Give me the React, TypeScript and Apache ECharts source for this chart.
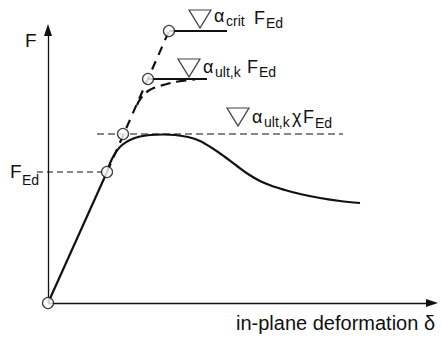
import React, { useEffect, useRef } from "react";
import * as echarts from "echarts";

// Data units: horizontal = in-plane deformation δ, vertical = load F (arbitrary units)
const elasticBranch = [[0, 0], [59, 131]];
const responseCurve = [
  [59, 131], [63, 142], [68, 151], [74, 158], [82, 163], [92, 166.5], [102, 168],
  [115, 168.5], [127, 168], [140, 166], [152, 162], [164, 155], [177, 146], [189, 137],
  [200, 129], [212, 122], [224, 117], [237, 113], [252, 109], [272, 105], [292, 102], [312, 100],
];
const criticalLine = [[59, 131], [121, 272]];
const ultimateCurve = [
  [89, 198], [93, 205], [100, 212], [107, 215.5], [117, 218.5], [130, 221.5], [147, 223.5],
];
const F_ED = 131;
const ALPHA_ULT_CHI_FED = 169;
const ALPHA_ULT_FED = 224;
const ALPHA_CRIT_FED = 272;
const fedLine = [[-11, F_ED], [59, F_ED]];
const chiLine = [[49, ALPHA_ULT_CHI_FED], [295, ALPHA_ULT_CHI_FED]];
const ultLevel = [[100, ALPHA_ULT_FED], [159, ALPHA_ULT_FED]];
const critLevel = [[121, ALPHA_CRIT_FED], [179, ALPHA_CRIT_FED]];
const keyPoints = [[0, 0], [59, F_ED], [75, ALPHA_ULT_CHI_FED], [100, ALPHA_ULT_FED], [121, ALPHA_CRIT_FED]];
const levelMarkers = [[152, 284], [141, 235], [190, 186]];
const xAxisEnd = 384;
const yAxisEnd = 273;

const FONT = '"Liberation Sans", Arial, sans-serif';

function txt(text: string, x: number, y: number, size: number, align = "left") {
  return {
    type: "text",
    x,
    y,
    silent: true,
    style: {
      text,
      font: `${size}px ${FONT}`,
      fill: "#111",
      align,
      verticalAlign: "middle",
    },
  };
}

export default function App() {
  const ref = useRef<HTMLDivElement>(null);
  useEffect(() => {
    if (!ref.current) return;
    const chart = echarts.init(ref.current, undefined, { renderer: "svg" });
    const black = "#111";
    chart.setOption({
      animation: false,
      backgroundColor: "#fff",
      grid: { left: 0, right: 0, top: 0, bottom: 0, containLabel: false },
      xAxis: { type: "value", min: -48, max: 393, show: false },
      yAxis: { type: "value", min: -37, max: 303, show: false },
      series: [
        {
          type: "line",
          data: [],
          markLine: {
            silent: true,
            symbol: ["none", "triangle"],
            symbolSize: [8, 12],
            label: { show: false },
            lineStyle: { color: black, width: 1.3, type: "solid" },
            data: [
              [{ coord: [0, 0] }, { coord: [xAxisEnd, 0] }],
              [{ coord: [0, 0] }, { coord: [0, yAxisEnd] }],
            ],
          },
        },
        {
          type: "line", data: fedLine, symbol: "none",
          lineStyle: { color: black, width: 1, type: [6, 4] },
        },
        {
          type: "line", data: chiLine, symbol: "none",
          lineStyle: { color: black, width: 1, type: [7, 4] },
        },
        {
          type: "line", data: criticalLine, symbol: "none",
          lineStyle: { color: black, width: 2.2, type: [9, 7] },
        },
        {
          type: "line", data: ultimateCurve, symbol: "none", smooth: 0.4,
          lineStyle: { color: black, width: 2.2, type: [10, 6] },
        },
        {
          type: "line", data: elasticBranch, symbol: "none",
          lineStyle: { color: black, width: 2.2 },
        },
        {
          type: "line", data: responseCurve, symbol: "none", smooth: 0.35,
          lineStyle: { color: black, width: 2.2 },
        },
        {
          type: "line", data: ultLevel, symbol: "none",
          lineStyle: { color: black, width: 2 },
        },
        {
          type: "line", data: critLevel, symbol: "none",
          lineStyle: { color: black, width: 2 },
        },
        {
          type: "scatter", data: levelMarkers, symbol: "triangle", symbolRotate: 180,
          symbolSize: [22, 18],
          itemStyle: { color: "rgba(255,255,255,0)", borderColor: black, borderWidth: 1.2 },
          z: 5,
        },
        {
          type: "scatter", data: keyPoints, symbol: "circle", symbolSize: 11,
          itemStyle: { color: "#fff", borderColor: black, borderWidth: 1.3 },
          z: 6,
        },
      ],
      graphic: [
        txt("F", 25, 40, 19),
        txt("F", 10, 171, 19),
        txt("Ed", 22, 180, 14),
        txt("α", 214, 16, 18),
        txt("crit", 226, 21, 14),
        txt("F", 254, 18, 18),
        txt("Ed", 266, 23, 14),
        txt("α", 203, 67, 18),
        txt("ult,k", 215, 72, 14),
        txt("F", 247, 67, 18),
        txt("Ed", 259, 72, 14),
        txt("α", 252, 117, 18),
        txt("ult,k", 264, 122, 14),
        txt("χ", 292, 117, 18),
        txt("F", 303, 117, 18),
        txt("Ed", 315, 123, 14),
        txt("in-plane deformation δ", 236, 323, 20),
      ],
    });
    return () => chart.dispose();
  }, []);
  return (
    <div
      ref={ref}
      style={{ position: "absolute", left: 0, top: 0, width: 441, height: 340, background: "#fff" }}
    />
  );
}
